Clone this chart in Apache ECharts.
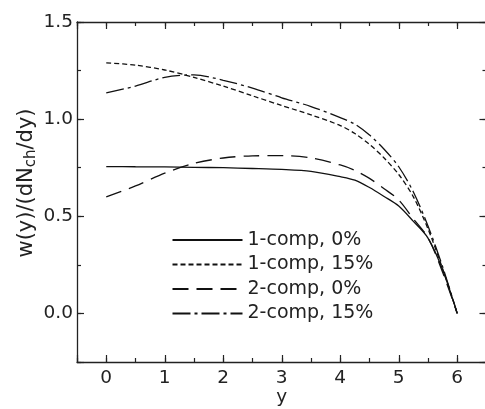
<!DOCTYPE html>
<html>
<head>
<meta charset="utf-8">
<script src="https://cdn.jsdelivr.net/npm/echarts@6/dist/echarts.min.js"></script>
<style>
html,body{margin:0;padding:0;background:#fff;}
#c{width:485px;height:409px;}
</style>
</head>
<body>
<div id="c"></div>
<script>
const xVals = [0, 0.5, 1, 1.5, 2, 2.5, 3, 3.5, 4, 4.25, 4.5, 4.75, 5, 5.25, 5.5, 5.75, 6];
const oneComp0  = [0.756, 0.755, 0.754, 0.752, 0.750, 0.746, 0.741, 0.731, 0.704, 0.686, 0.648, 0.602, 0.553, 0.474, 0.388, 0.225, 0];
const oneComp15 = [1.290, 1.278, 1.253, 1.215, 1.170, 1.120, 1.070, 1.022, 0.967, 0.926, 0.870, 0.800, 0.715, 0.600, 0.435, 0.230, 0];
const twoComp0  = [0.600, 0.656, 0.722, 0.772, 0.800, 0.811, 0.812, 0.800, 0.764, 0.736, 0.695, 0.642, 0.584, 0.487, 0.390, 0.212, 0];
const twoComp15 = [1.135, 1.170, 1.215, 1.228, 1.200, 1.160, 1.110, 1.065, 1.008, 0.974, 0.918, 0.845, 0.755, 0.625, 0.450, 0.240, 0];
const seriesNames = ['1-comp, 0%', '1-comp, 15%', '2-comp, 0%', '2-comp, 15%'];
const xTickLabels = ['0', '1', '2', '3', '4', '5', '6'];
const yTickLabels = ['0.0', '0.5', '1.0', '1.5'];

const FONT = '"DejaVu Sans", "Liberation Sans", sans-serif';
const INK = '#222';
const dashes = ['solid', [5, 3], [16, 8], [18, 4, 3, 4]];
const allData = [oneComp0, oneComp15, twoComp0, twoComp15];

const chart = echarts.init(document.getElementById('c'), null, {renderer: 'canvas'});

const minorTick = {show: true, inside: true, length: 4, lineStyle: {color: INK, width: 1.2}};
function baseX(extra) {
  return Object.assign({
    type: 'value', min: -0.5, max: 6.5, gridIndex: 0,
    splitLine: {show: false},
    axisLine: {show: true, onZero: false, lineStyle: {color: INK, width: 1.3}},
    axisTick: {show: true, inside: true, length: 7, lineStyle: {color: INK, width: 1.2}},
    axisLabel: {show: false}
  }, extra);
}
function baseY(extra) {
  return Object.assign({
    type: 'value', min: -0.25, max: 1.5, gridIndex: 0,
    splitLine: {show: false},
    axisLine: {show: true, onZero: false, lineStyle: {color: INK, width: 1.3}},
    axisTick: {show: true, inside: true, length: 7, lineStyle: {color: INK, width: 1.2}},
    axisLabel: {show: false}
  }, extra);
}

const option = {
  backgroundColor: '#fff',
  animation: false,
  grid: {left: 77, top: 22, width: 409.5, height: 340, containLabel: false, outerBoundsMode: 'none'},
  xAxis: [
    baseX({position: 'bottom', splitNumber: 7,
      name: 'y', nameLocation: 'middle', nameGap: 26, nameMoveOverlap: false,
      nameTextStyle: {fontFamily: FONT, fontSize: 18.5, color: INK},
      axisLabel: {show: true, margin: 7, fontFamily: FONT, fontSize: 18.5, color: INK,
        formatter: v => (Math.abs(v - Math.round(v)) < 1e-9 && xTickLabels.indexOf(String(Math.round(v))) >= 0) ? String(Math.round(v)) : ''}}),
    baseX({position: 'bottom', interval: 0.5, axisLine: {show: false, onZero: false}, axisTick: minorTick}),
    baseX({position: 'top', splitNumber: 7}),
    baseX({position: 'top', interval: 0.5, axisLine: {show: false, onZero: false}, axisTick: minorTick})
  ],
  yAxis: [
    baseY({position: 'left', splitNumber: 4,
      axisLabel: {show: true, margin: 4, fontFamily: FONT, fontSize: 18.5, color: INK,
        formatter: v => { const s = v.toFixed(1); return (Math.abs(v * 2 - Math.round(v * 2)) < 1e-9 && yTickLabels.indexOf(s) >= 0) ? s : ''; }}}),
    baseY({position: 'left', interval: 0.25, axisLine: {show: false, onZero: false}, axisTick: minorTick}),
    baseY({position: 'right', splitNumber: 4}),
    baseY({position: 'right', interval: 0.25, axisLine: {show: false, onZero: false}, axisTick: minorTick})
  ],
  legend: {
    orient: 'vertical', left: 171.5, top: 230, padding: 0,
    itemWidth: 70, itemHeight: 12, itemGap: 4.5,
    itemStyle: {opacity: 0},
    textStyle: {fontFamily: FONT, fontSize: 19, color: INK, lineHeight: 20, padding: [0, 0, 0, 0]},
    data: seriesNames
  },
  graphic: [{
    type: 'text', x: 27, y: 183, rotation: Math.PI / 2,
    style: {
      text: '{a|w(y)/(dN}{b|ch}{a|/dy)}',
      align: 'center', verticalAlign: 'middle',
      rich: {
        a: {fontFamily: FONT, fontSize: 21, fill: INK, color: INK},
        b: {fontFamily: FONT, fontSize: 15, fill: INK, color: INK, padding: [9, 0, 0, 0]}
      }
    }
  }],
  series: allData.map((arr, i) => ({
    name: seriesNames[i], type: 'line', xAxisIndex: 0, yAxisIndex: 0,
    data: xVals.map((x, j) => [x, arr[j]]),
    smooth: 0.3, symbol: 'none', showSymbol: false,
    lineStyle: {color: '#111', width: 1.3, type: dashes[i]},
    itemStyle: {color: '#111'}
  }))
};
chart.setOption(option);
</script>
</body>
</html>
